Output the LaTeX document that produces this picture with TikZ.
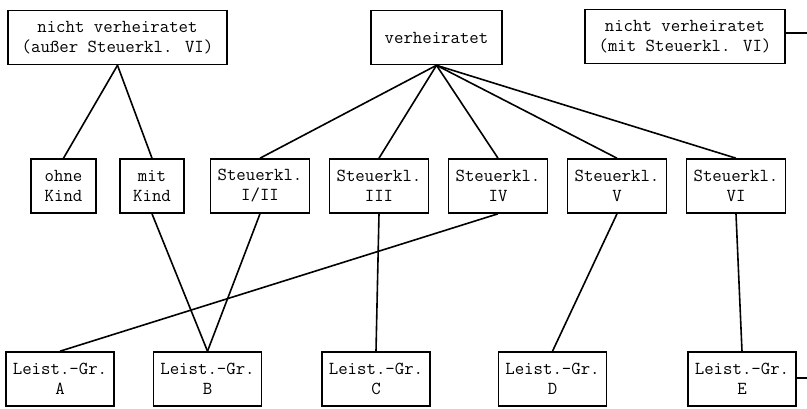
\documentclass[tikz,border=0pt]{standalone}
\usepackage{fontspec}
\usepackage{tikz}
\usetikzlibrary{positioning}

\begin{document}
\begin{tikzpicture}[x=1pt,y=-1pt,line width=1.6pt,node distance=119pt,
    box/.style={draw,align=center,minimum height=54pt,inner xsep=7pt,
      font=\ttfamily\fontsize{18.3}{20}\selectfont},
    kopf/.style={box,inner xsep=13.5pt}]
  \useasboundingbox (0,0) rectangle (807,408);

  % obere Reihe
  \node[kopf] (ledig) at (117.5,37.5) {nicht verheiratet\\(außer Steuerkl. VI)};
  \node[kopf] (verh) at (436.5,37.5) {verheiratet};
  \node[kopf] (ledigvi) at (685,36.5) {nicht verheiratet\\(mit Steuerkl. VI)};

  % mittlere Reihe
  \node[box,minimum width=65pt] (ohne) at (63.5,186) {ohne\\Kind};
  \node[box,minimum width=64pt] (mit) [right of=ohne,node distance=88.5pt] {mit\\Kind};
  \node[box] (sk12) [right of=mit,node distance=108pt] {Steuerkl.\\I/II};
  \node[box] (sk3) [right of=sk12] {Steuerkl.\\III};
  \node[box] (sk4) [right of=sk3] {Steuerkl.\\IV};
  \node[box] (sk5) [right of=sk4] {Steuerkl.\\V};
  \node[box] (sk6) [right of=sk5] {Steuerkl.\\VI};

  % untere Reihe
  \node[box] (la) at (60,379) {Leist.-Gr.\\A};
  \node[box] (lb) [right of=la,node distance=147.5pt] {Leist.-Gr.\\B};
  \node[box] (lc) [right of=lb,node distance=168.5pt] {Leist.-Gr.\\C};
  \node[box] (ld) [right of=lc,node distance=176.5pt] {Leist.-Gr.\\D};
  \node[box] (le) [right of=ld,node distance=189.5pt] {Leist.-Gr.\\E};

  \coordinate (randoben) at (807,33);
  \coordinate (randunten) at (807,378);

  \draw (ledig.south) -- (ohne.north);
  \draw (ledig.south) -- (mit.north);
  \draw (verh.south) -- (sk12.north);
  \draw (verh.south) -- (sk3.north);
  \draw (verh.south) -- (sk4.north);
  \draw (verh.south) -- (sk5.north);
  \draw (verh.south) -- (sk6.north);
  \draw (mit.south) -- (lb.north);
  \draw (sk12.south) -- (lb.north);
  \draw (sk3.south) -- (lc.north);
  \draw (sk4.south) -- (la.north);
  \draw (sk5.south) -- (ld.north);
  \draw (sk6.south) -- (le.north);
  \draw (ledigvi.east |- randoben) -- (randoben);
  \draw (le.east |- randunten) -- (randunten);
\end{tikzpicture}
\end{document}
